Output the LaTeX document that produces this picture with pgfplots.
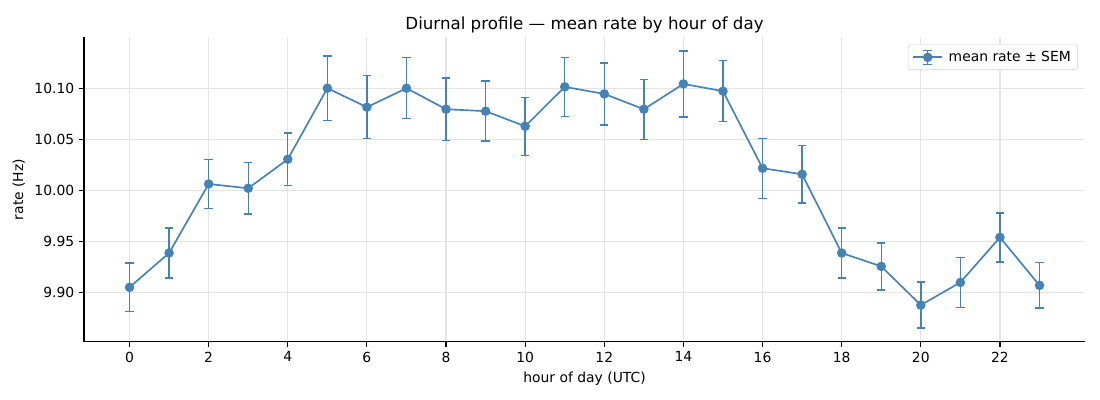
\documentclass[border=0pt]{standalone}
\usepackage{pgfplots}
\pgfplotsset{compat=1.18}
\usepackage{fontspec}
\setmainfont{DejaVu Sans}
\definecolor{steel}{HTML}{4682B4}
\definecolor{gridc}{RGB}{228,228,228}
\definecolor{legc}{RGB}{210,210,210}
\pgfplotstableread{
h m e
0 9.9050 0.0237
1 9.9386 0.0245
2 10.0062 0.0242
3 10.0020 0.0253
4 10.0304 0.0258
5 10.1000 0.0314
6 10.0814 0.0309
7 10.1000 0.0299
8 10.0794 0.0304
9 10.0775 0.0294
10 10.0627 0.0284
11 10.1013 0.0289
12 10.0944 0.0304
13 10.0794 0.0294
14 10.1042 0.0324
15 10.0971 0.0299
16 10.0216 0.0294
17 10.0157 0.0283
18 9.9386 0.0245
19 9.9255 0.0230
20 9.8876 0.0225
21 9.9098 0.0245
22 9.9539 0.0240
23 9.9069 0.0221
}\datatable
\begin{document}
\begin{tikzpicture}
\useasboundingbox (0,0) rectangle (792pt,288pt);
\begin{axis}[
  at={(60.5pt,41.8pt)}, anchor=south west,
  scale only axis, width=720.7pt, height=219.6pt,
  xmin=-1.15, xmax=24.15, ymin=9.8515, ymax=10.1502,
  axis x line*=bottom, axis y line*=left,
  axis line style={line width=0.8pt, -},
  xtick={0,2,...,22}, ytick={9.90,9.95,10.00,10.05,10.10},
  yticklabel style={/pgf/number format/.cd, fixed, fixed zerofill, precision=2},
  /pgf/number format/assume math mode=true,
  tick label style={font=\fontsize{10}{12}\selectfont},
  tick align=outside,
  major tick length=3.5pt,
  tick style={line width=0.8pt, black},
  grid=major,
  grid style={line width=0.8pt, gridc},
  xlabel={hour of day (UTC)},
  ylabel={rate (Hz)},
  label style={font=\fontsize{10}{12}\selectfont},
  title={Diurnal profile — mean rate by hour of day},
  every axis title/.style={font=\fontsize{12}{14}\selectfont, at={(0.5,1)}, anchor=base, yshift=5pt},
  legend style={at={(0.993,0.975)}, anchor=north east, draw=legc, rounded corners=2pt,
    font=\fontsize{10}{12}\selectfont, inner xsep=3pt, inner ysep=2.5pt,
    /tikz/column sep=2pt},
  legend cell align=left,
  legend image code/.code={
    \draw[steel, line width=1.2pt] (0pt,0pt) -- (21pt,0pt);
    \draw[steel, line width=1pt] (10.5pt,-5pt) -- (10.5pt,5pt);
    \draw[steel, line width=1pt] (7.3pt,-5pt) -- (13.7pt,-5pt);
    \draw[steel, line width=1pt] (7.3pt,5pt) -- (13.7pt,5pt);
    \fill[steel] (10.5pt,0pt) circle (2.8pt);
  },
]
\addplot[steel, line width=1.2pt, mark=*, mark size=2.8pt,
  mark options={solid, fill=steel, draw=steel},
  error bars/.cd, y dir=both, y explicit,
  error bar style={line width=1pt, steel},
  error mark options={rotate=90, mark size=3pt, line width=1pt, steel}]
  table[x=h, y=m, y error=e] {\datatable};
\addlegendentry{mean rate ± SEM}
\end{axis}
\end{tikzpicture}
\end{document}
